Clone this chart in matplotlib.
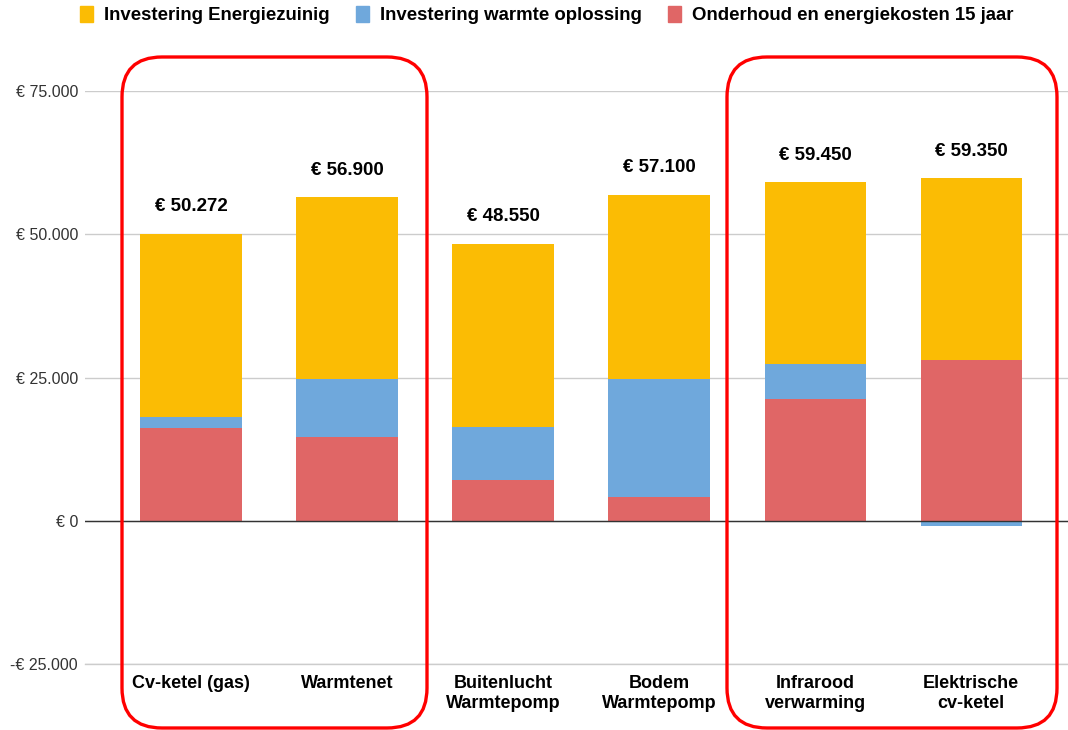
import matplotlib
matplotlib.use("Agg")
import matplotlib.pyplot as plt
from matplotlib.patches import FancyBboxPatch, Patch
from matplotlib.transforms import IdentityTransform
from matplotlib.ticker import FuncFormatter
import numpy as np

plt.rcParams['font.family'] = ['Liberation Sans', 'DejaVu Sans']

categories = ["Cv-ketel (gas)", "Warmtenet", "Buitenlucht\nWarmtepomp",
              "Bodem\nWarmtepomp", "Infrarood\nverwarming", "Elektrische\ncv-ketel"]
onderhoud = [16200, 14650, 7150, 4200, 21300, 28100]
warmte = [1900, 10100, 9250, 20600, 6100, -900]
energiezuinig = [32000, 31700, 31900, 32100, 31700, 31700]
total_labels = ["€ 50.272", "€ 56.900", "€ 48.550", "€ 57.100", "€ 59.450", "€ 59.350"]
y_ticks = [-25000, 0, 25000, 50000, 75000]

c_yellow = "#FBBC04"
c_blue = "#6FA8DC"
c_red = "#E06666"

fig = plt.figure(figsize=(10.68, 7.30), dpi=100)
ax = fig.add_axes([85/1068, 66/730, 983/1068, 573/730])

x = np.arange(len(categories))
w = 0.65
on = np.array(onderhoud, float)
wa = np.array(warmte, float)
ez = np.array(energiezuinig, float)

ax.bar(x, on, w, color=c_red, zorder=2)
blue_bottom = np.where(wa >= 0, on, 0)
ax.bar(x, wa, w, bottom=blue_bottom, color=c_blue, zorder=2)
pos_top = on + np.clip(wa, 0, None)
ax.bar(x, ez, w, bottom=pos_top, color=c_yellow, zorder=2)

tops = pos_top + ez
for xi, t, lab in zip(x, tops, total_labels):
    ax.annotate(lab, (xi, t), xytext=(0, 19.5), textcoords="offset points",
                ha="center", va="center", fontsize=13.5, fontweight="bold", color="black")

ax.set_xlim(-0.68, 5.62)
ax.set_ylim(-25000, 75000)
ax.set_yticks(y_ticks)
ax.yaxis.set_major_formatter(FuncFormatter(
    lambda v, p: ("-€ " if v < 0 else "€ ") + f"{abs(int(v)):,}".replace(",", ".")))
ax.tick_params(axis="y", length=0, pad=5, labelsize=11.5, labelcolor="#333333")
ax.set_xticks(x)
ax.set_xticklabels(categories, fontsize=13, fontweight="bold")
ax.tick_params(axis="x", length=0, pad=8)
ax.grid(axis="y", color="#cccccc", linewidth=1, zorder=0)
ax.axhline(-25000, color="#cccccc", linewidth=1, zorder=0, clip_on=False)
ax.axhline(0, color="#333333", linewidth=1, zorder=3)
for s in ax.spines.values():
    s.set_visible(False)

handles = [Patch(color=c_yellow, label="Investering Energiezuinig"),
           Patch(color=c_blue, label="Investering warmte oplossing"),
           Patch(color=c_red, label="Onderhoud en energiekosten 15 jaar")]
leg = fig.legend(handles=handles, loc="center", bbox_to_anchor=(547/1068, 1 - 15/730),
                 ncol=3, frameon=False, prop={"weight": "bold", "size": 13.4},
                 handlelength=0.7, handleheight=1.0, handletextpad=0.6, columnspacing=1.4)

for (x0, x1) in [(122, 427), (727, 1057)]:
    box = FancyBboxPatch((x0, 730 - 728), x1 - x0, 671,
                         boxstyle="round,pad=0,rounding_size=40",
                         transform=IdentityTransform(), fill=False,
                         edgecolor="#ff0000", linewidth=2.4, zorder=10)
    fig.patches.append(box)

fig.savefig("out.png", dpi=100)
